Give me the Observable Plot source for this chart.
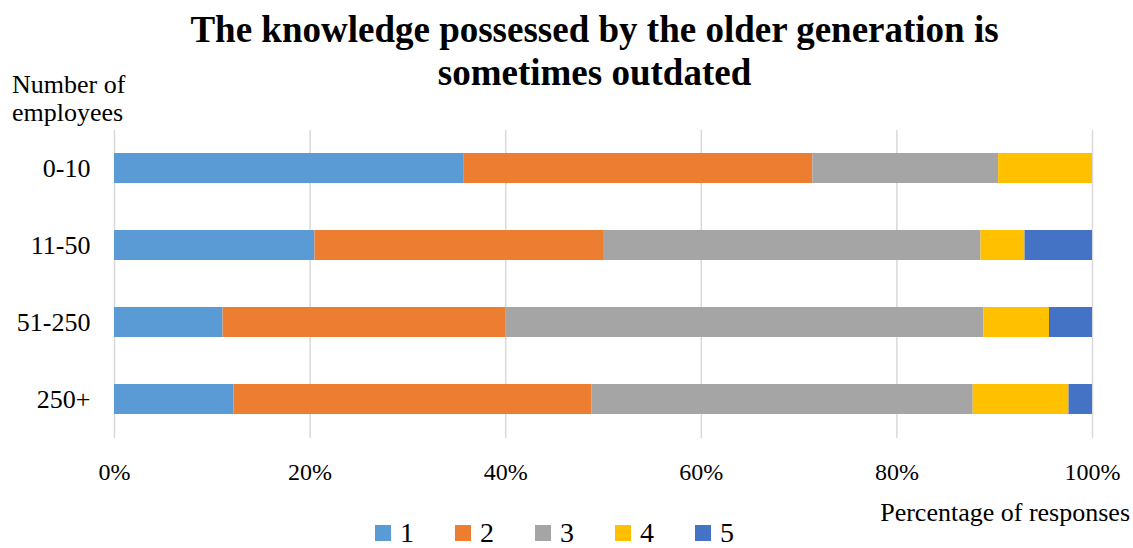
<!DOCTYPE html>
<html>
<head>
<meta charset="utf-8">
<script src="https://cdn.jsdelivr.net/npm/d3@7"></script>
<script src="https://cdn.jsdelivr.net/npm/@observablehq/plot@0.6"></script>
<style>
  html, body { margin: 0; padding: 0; background: #fff; }
  #wrap { position: relative; width: 1133px; height: 548px; font-family: "Liberation Serif", "Times New Roman", serif; color: #000; overflow: hidden; }
  #title { position: absolute; left: 594.5px; top: 8px; transform: translateX(-50%); font-weight: bold; font-size: 37px; line-height: 43px; text-align: center; white-space: nowrap; }
  #ytitle { position: absolute; left: 12px; top: 71px; font-size: 26px; line-height: 28px; white-space: nowrap; }
  #xtitle { position: absolute; right: 3px; top: 500px; font-size: 26px; line-height: 26px; white-space: nowrap; }
  #legend { position: absolute; left: 375px; top: 519px; display: flex; font-size: 28px; line-height: 28px; }
  #legend .item { width: 80px; display: flex; align-items: center; }
  #legend .sw { width: 16px; height: 16px; margin-right: 9px; }
  #chart { position: absolute; left: 0; top: 0; }
  #chart svg text, #chart svg g { font-family: "Liberation Serif", serif !important; }
</style>
</head>
<body>
<div id="wrap">
  <div id="chart"></div>
  <div id="title">The knowledge possessed by the older generation is<br>sometimes outdated</div>
  <div id="ytitle">Number of<br>employees</div>
  <div id="xtitle">Percentage of responses</div>
  <div id="legend"></div>
</div>
<script>
// Categories (company size)
const categories = ["0-10", "11-50", "51-250", "250+"];
// Response levels
const levels = ["1", "2", "3", "4", "5"];
// Percentage of responses per level, per category
const level1 = [35.7, 20.5, 11.1, 12.2];
const level2 = [35.7, 29.5, 28.9, 36.6];
const level3 = [19.0, 38.6, 48.9, 39.0];
const level4 = [9.6, 4.5, 6.7, 9.8];
const level5 = [0.0, 6.9, 4.4, 2.4];
// Axis ticks
const xTicks = [0, 20, 40, 60, 80, 100];
const colors = ["#5B9BD5", "#ED7D31", "#A5A5A5", "#FFC000", "#4472C4"];

const series = [level1, level2, level3, level4, level5];
const data = [];
levels.forEach((lv, i) => {
  categories.forEach((c, j) => {
    data.push({category: c, level: lv, value: series[i][j]});
  });
});

const serif = "Liberation Serif";
const chart = Plot.plot({
  width: 1133,
  height: 548,
  marginLeft: 114,
  marginRight: 41,
  marginTop: 130,
  marginBottom: 110,
  style: {fontFamily: serif, fontSize: "24px", color: "#000", background: "transparent"},
  x: {domain: [0, 100], ticks: xTicks, tickFormat: d => d + "%", label: null},
  y: {domain: categories, paddingInner: 0.61, paddingOuter: 0.305, label: null},
  color: {domain: levels, range: colors},
  marks: [
    Plot.gridX(xTicks, {stroke: "#d9d9d9", strokeOpacity: 1, strokeWidth: 1.5}),
    Plot.barX(data, Plot.stackX({x: "value", y: "category", fill: "level", order: null})),
    Plot.axisX({ticks: xTicks, tickFormat: d => d + "%", tickSize: 0, tickPadding: 24, fontSize: 24, fontFamily: serif, fontVariant: "normal", label: null}),
    Plot.axisY({tickSize: 0, tickPadding: 24, fontSize: 26, fontFamily: serif, fontVariant: "normal", label: null})
  ]
});
document.getElementById("chart").appendChild(chart);

const legend = document.getElementById("legend");
levels.forEach((lv, i) => {
  const item = document.createElement("div");
  item.className = "item";
  const sw = document.createElement("span");
  sw.className = "sw";
  sw.style.background = colors[i];
  const t = document.createElement("span");
  t.textContent = lv;
  item.appendChild(sw);
  item.appendChild(t);
  legend.appendChild(item);
});
</script>
</body>
</html>
